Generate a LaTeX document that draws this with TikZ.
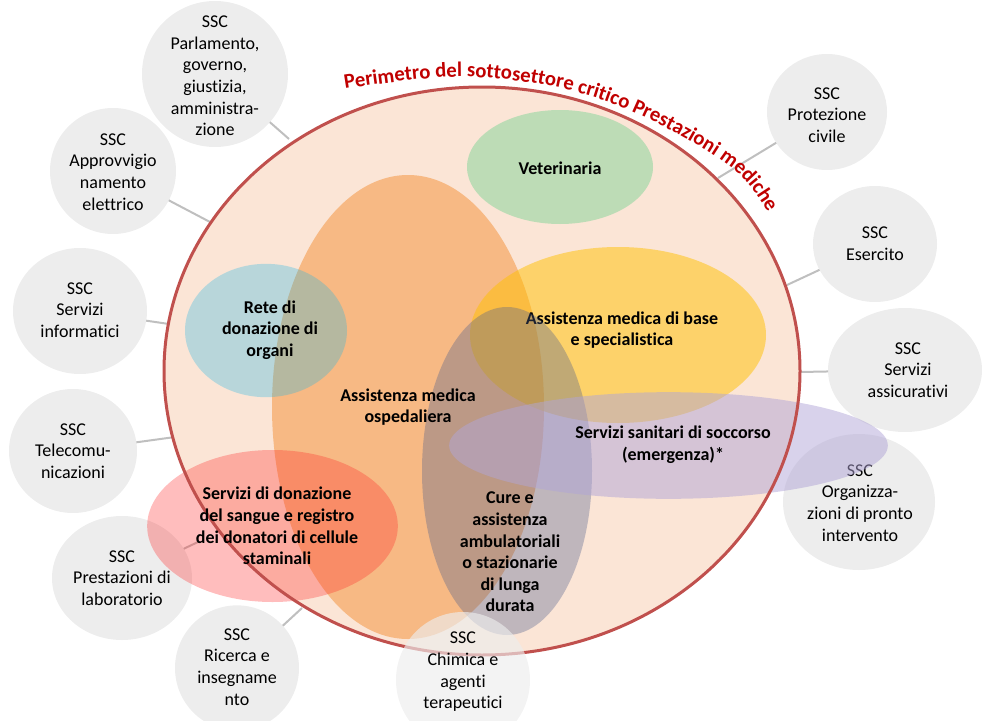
\documentclass[tikz,border=0pt]{standalone}
\usepackage{fontspec}
\setmainfont{Carlito}[Ligatures=NoCommon]
\usetikzlibrary{shapes.geometric,decorations.text}
\definecolor{greyc}{HTML}{EDEDED}
\definecolor{connc}{HTML}{BFBFBF}
\definecolor{peach}{HTML}{FBE5D6}
\definecolor{rimc}{HTML}{C0504D}
\definecolor{titlec}{HTML}{C00000}
\definecolor{vetc}{HTML}{BDDCB6}
\definecolor{ospc}{HTML}{F7B984}
\definecolor{retec}{RGB}{30,182,228}
\definecolor{basec}{HTML}{FFC000}
\definecolor{curec}{RGB}{80,95,140}
\definecolor{soccc}{RGB}{177,165,215}
\definecolor{sanguec}{RGB}{255,38,38}
\newcommand\perimfont{\fontsize{15.5}{18}\selectfont\bfseries}
\begin{document}
\begin{tikzpicture}[x=0.75pt,y=-0.75pt,
  blob/.style={ellipse, inner sep=0pt, outer sep=0pt, draw=none},
  ssc/.style={blob, fill=greyc},
  lbl/.style={align=center, inner sep=0pt, font=\fontsize{13.5}{16.2}\selectfont, text=black},
  blbl/.style={align=center, inner sep=0pt, font=\fontsize{13.5}{16.2}\selectfont\bfseries, text=black},
  conn/.style={draw=connc, line width=1.5pt}]
\useasboundingbox (0,0) rectangle (982,721);

% grey SSC circles
\node[ssc, minimum width=109.5pt, minimum height=109.5pt] (parl) at (215,74) {};
\node[ssc, minimum width=94.5pt, minimum height=94.5pt] (appr) at (113,171) {};
\node[ssc, minimum width=100.5pt, minimum height=94.5pt] (info) at (80,311) {};
\node[ssc, minimum width=96pt, minimum height=93pt] (tele) at (73,451) {};
\node[ssc, minimum width=105pt, minimum height=93pt] (lab) at (122,578) {};
\node[ssc, minimum width=93pt, minimum height=94pt] (ric) at (237,668) {};
\node[ssc, minimum width=114pt, minimum height=102pt] (org) at (859,502) {};
\node[ssc, minimum width=115.5pt, minimum height=93pt] (assic) at (905,370) {};
\node[ssc, minimum width=93pt, minimum height=87pt] (eser) at (875,244) {};
\node[ssc, minimum width=90pt, minimum height=87pt] (prot) at (827,112) {};

\node[lbl] (parlT) at (215,76) {SSC\\Parlamento,\\governo,\\giustizia,\\amministra-\\zione};
\node[lbl] (apprT) at (113,172) {SSC\\Approvvigio\\namento\\elettrico};
\node[lbl] (infoT) at (80,310) {SSC\\Servizi\\informatici};
\node[lbl] (teleT) at (73,451) {SSC\\Telecomu-\\nicazioni};
\node[lbl] (labT) at (122,578) {SSC\\Prestazioni di\\laboratorio};
\node[lbl] (ricT) at (237,667) {SSC\\Ricerca e\\insegname\\nto};
\node[lbl] (orgT) at (860,503) {SSC\\Organizza-\\zioni di pronto\\intervento};
\node[lbl] (assicT) at (908,370) {SSC\\Servizi\\assicurativi};
\node[lbl] (eserT) at (875,244) {SSC\\Esercito};
\node[lbl] (protT) at (827,115) {SSC\\Protezione\\civile};

% connectors
\coordinate (parlE) at (289,139);
\coordinate (apprE) at (210,222);
\coordinate (infoE) at (169,324);
\coordinate (teleE) at (175,437);
\coordinate (labE) at (198,542);
\coordinate (ricE) at (302,608);
\coordinate (assicE) at (800,372);
\coordinate (eserE) at (787,285);
\coordinate (protE) at (718,178);
\draw[conn] (parl) -- (parlE);
\draw[conn] (appr) -- (apprE);
\draw[conn] (info) -- (infoE);
\draw[conn] (tele) -- (teleE);
\draw[conn] (lab) -- (labE);
\draw[conn] (ric) -- (ricE);
\draw[conn] (assic) -- (assicE);
\draw[conn] (eser) -- (eserE);
\draw[conn] (prot) -- (protE);

% perimeter
\node[blob, fill=peach, minimum width=477pt, minimum height=426pt] (big) at (482,371) {};

% inner areas
\node[blob, fill=vetc, minimum width=139.5pt, minimum height=85.5pt] (vet) at (560,167) {};
\node[blob, fill=ospc, minimum width=204pt, minimum height=348pt] (osp) at (408,407) {};
\node[blob, fill=retec, fill opacity=0.3, minimum width=121.5pt, minimum height=100pt] (rete) at (266,330.5) {};
\node[blob, fill=basec, fill opacity=0.5, minimum width=222pt, minimum height=132pt] (base) at (618,335) {};
\node[blbl] (baseT) at (622,330) {Assistenza medica di base\\e specialistica};
\node[blob, fill=curec, fill opacity=0.35, minimum width=127.5pt, minimum height=246pt] (cure) at (507,471) {};
\node[blob, fill=soccc, fill opacity=0.5, minimum width=329pt, minimum height=80pt] (socc) at (668.5,445.5) {};
\node[blob, fill=sanguec, fill opacity=0.3, minimum width=188pt, minimum height=114pt] (sangue) at (272.5,526) {};

% perimeter outline
\draw[draw=rimc, line width=2.25pt] (big.center) ellipse [x radius=318, y radius=284];

% Chimica circle on top, translucent
\node[ssc, fill opacity=0.65, minimum width=100.5pt, minimum height=102pt] (chim) at (463,680) {};
\node[lbl] (chimT) at (463,672) {SSC\\Chimica e\\agenti\\terapeutici};

% inner labels
\node[blbl] (vetT) at (560,168) {Veterinaria};
\node[blbl] (reteT) at (270,330) {Rete di\\donazione di\\organi};
\node[blbl] (ospT) at (408,407) {Assistenza medica\\ospedaliera};
\node[blbl] (soccT) at (673,445) {Servizi sanitari di soccorso\\(emergenza)*};
\node[blbl] (cureT) at (510,552) {Cure e\\assistenza\\ambulatoriali\\o stazionarie\\di lunga\\durata};
\node[blbl] (sangueT) at (277,526) {Servizi di donazione\\del sangue e registro\\dei donatori di cellule\\staminali};

% curved title
\path[decorate, decoration={text along path, text format delimiters={|}{|},
   text={|\perimfont|Perimetro del sottosettore critico Prestazioni mediche},
   text color=titlec, text align=left}]
  plot[smooth, tension=0.6] coordinates {(345,89) (470,77) (600,99) (724,162) (772,218) (790,250)};
\end{tikzpicture}
\end{document}
